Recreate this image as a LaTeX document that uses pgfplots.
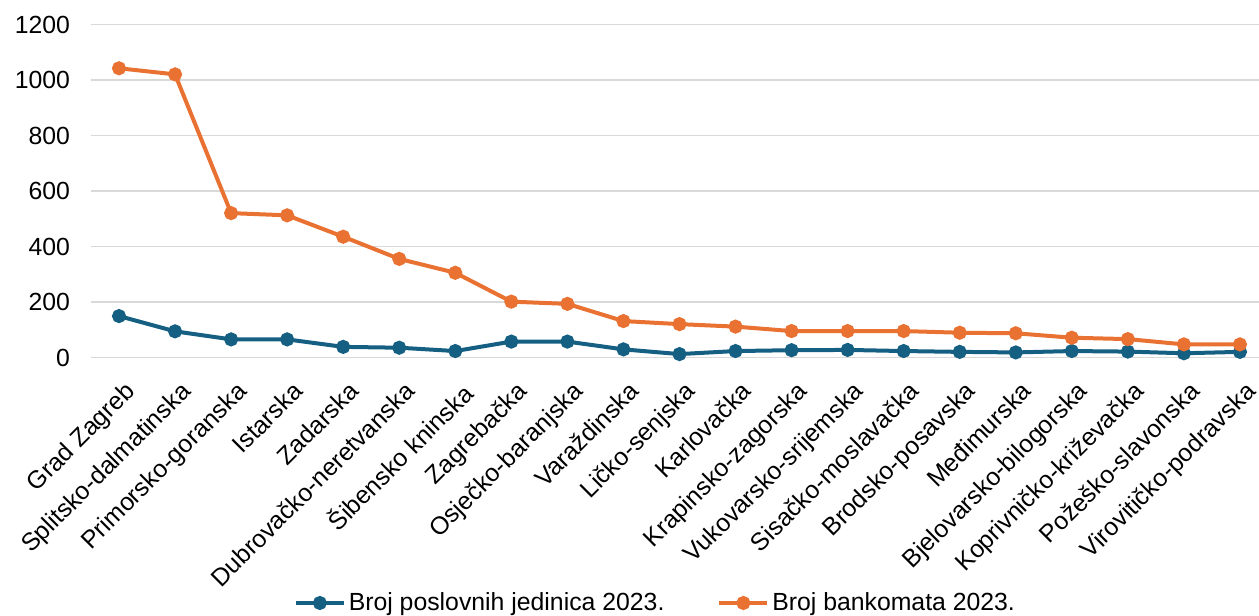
\documentclass[border=0pt]{standalone}
\usepackage{fontspec}
\setmainfont{Liberation Sans}
\usepackage{pgfplots}
\pgfplotsset{compat=1.18}
\definecolor{cblue}{HTML}{156082}
\definecolor{corange}{HTML}{E97132}
\definecolor{cgrid}{HTML}{D9D9D9}
\begin{document}
\begin{tikzpicture}
\useasboundingbox (-45.5pt,-129.15pt) rectangle (584pt,178.85pt);
\begin{axis}[
  scale only axis,
  width=584pt, height=166.5pt,
  xmin=-0.5, xmax=20.34,
  ymin=0, ymax=1200,
  ytick={0,200,...,1200},
  xtick={0,...,20},
  xticklabels={Grad Zagreb, Splitsko-dalmatinska, Primorsko-goranska, Istarska, Zadarska, Dubrovačko-neretvanska, Šibensko kninska, Zagrebačka, Osječko-baranjska, Varaždinska, Ličko-senjska, Karlovačka, Krapinsko-zagorska, Vukovarsko-srijemska, Sisačko-moslavačka, Brodsko-posavska, Međimurska, Bjelovarsko-bilogorska, Koprivničko-križevačka, Požeško-slavonska, Virovitičko-podravska},
  axis line style={draw=none},
  major tick length=0pt,
  ymajorgrids,
  grid style={cgrid, line width=0.75pt},
  tick label style={font=\fontsize{12.4}{14}\selectfont, /pgf/number format/assume math mode=true},
  yticklabel style={xshift=-7pt},
  y tick label style={/pgf/number format/1000 sep={}},
  xticklabel style={rotate=45, anchor=north east, yshift=-6pt, xshift=-3pt},
  clip=false,
  legend columns=2,
  legend style={at={(0.4837,-0.7366)}, anchor=center, draw=none, fill=none,
    font=\fontsize{12.4}{14}\selectfont,
    nodes={inner sep=1.5pt},
    /tikz/every even column/.append style={column sep=25pt}},
  legend image code/.code={\draw[mark repeat=2,mark phase=2,#1] plot coordinates {(0cm,0cm) (0.42cm,0cm) (0.84cm,0cm)};},
]
\addplot[cblue, line width=2pt, mark=*, mark size=2.5pt, mark options={fill=cblue, draw=cblue}] coordinates {
(0,150) (1,95) (2,66) (3,66) (4,39) (5,36) (6,24) (7,58) (8,58) (9,30) (10,13) (11,24) (12,27) (13,28) (14,24) (15,21) (16,19) (17,24) (18,22) (19,16) (20,21)};
\addlegendentry{Broj poslovnih jedinica 2023.}
\addplot[corange, line width=2pt, mark=*, mark size=2.5pt, mark options={fill=corange, draw=corange}] coordinates {
(0,1043) (1,1021) (2,521) (3,513) (4,436) (5,356) (6,306) (7,202) (8,194) (9,132) (10,121) (11,112) (12,96) (13,96) (14,96) (15,90) (16,88) (17,72) (18,67) (19,48) (20,48)};
\addlegendentry{Broj bankomata 2023.}
\end{axis}
\end{tikzpicture}
\end{document}
